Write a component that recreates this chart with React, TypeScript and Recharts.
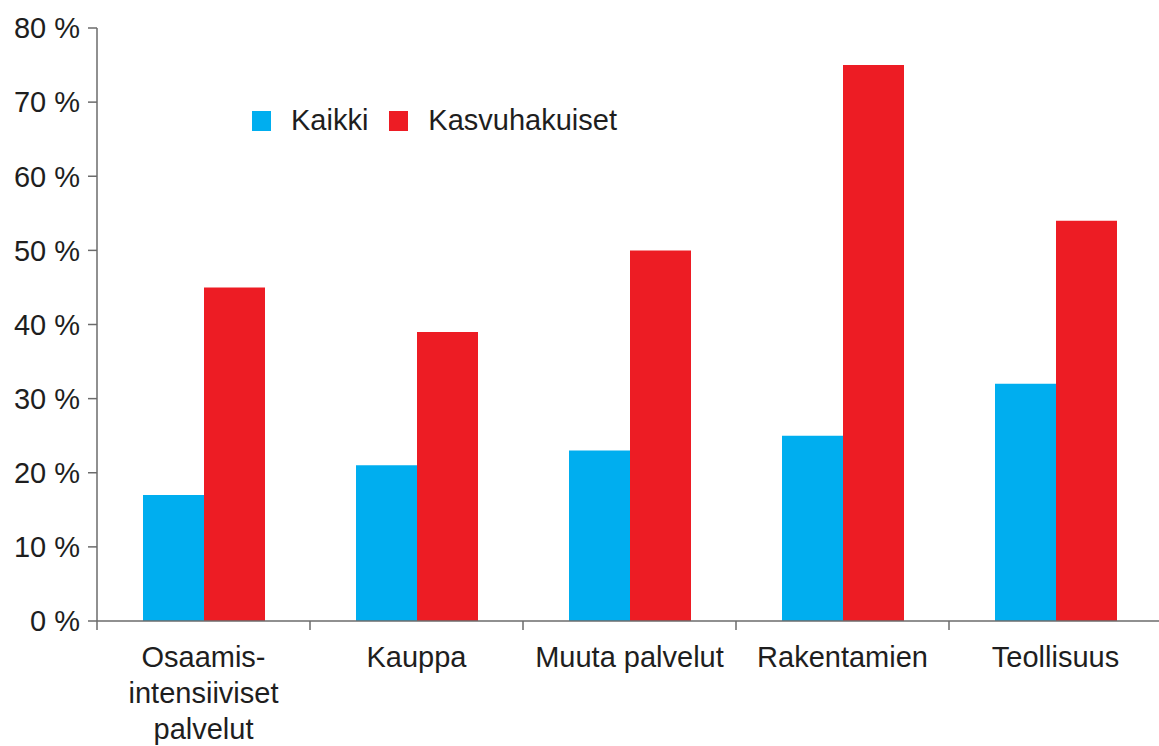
import React from 'react';
import { BarChart, Bar, XAxis, YAxis } from 'recharts';

// Toimialat (rivinvaihto \n jakaa pitkän nimen)
const CATEGORIES = [
  'Osaamis-\nintensiiviset\npalvelut',
  'Kauppa',
  'Muuta palvelut',
  'Rakentamien',
  'Teollisuus',
];
const KAIKKI = [17, 21, 23, 25, 32];
const KASVUHAKUISET = [45, 39, 50, 75, 54];
const Y_TICKS = [0, 10, 20, 30, 40, 50, 60, 70, 80];

const SERIES = [
  { key: 'kaikki', name: 'Kaikki', color: '#00AEEF' },
  { key: 'kasvu', name: 'Kasvuhakuiset', color: '#ED1C24' },
];

const data = CATEGORIES.map((c, i) => ({
  category: c,
  kaikki: KAIKKI[i],
  kasvu: KASVUHAKUISET[i],
}));

const FONT = '"Liberation Sans", Arial, Helvetica, sans-serif';
const AXIS = '#6b6b6b';
const TEXT = '#1e1e1e';

const CategoryTick = (props: any) => {
  const { x, y, payload } = props;
  const half = payload.offset ?? 106.5;
  const lines = String(payload.value).split('\n');
  return (
    <g>
      <line x1={x - half} x2={x - half} y1={y} y2={y + 9} stroke={AXIS} strokeWidth={1.5} />
      <text x={x} y={y} textAnchor="middle" fontSize={29} fill={TEXT} fontFamily={FONT}>
        {lines.map((l, i) => (
          <tspan key={i} x={x} dy={i === 0 ? 46 : 36}>
            {l}
          </tspan>
        ))}
      </text>
    </g>
  );
};

const App: React.FC = () => {
  return (
    <div
      style={{
        position: 'absolute',
        left: 0,
        top: 0,
        width: 1159,
        height: 746,
        overflow: 'hidden',
        background: '#fff',
        fontFamily: FONT,
      }}
    >
      <BarChart
        width={1162}
        height={746}
        data={data}
        margin={{ top: 28, right: 0, left: 0, bottom: 0 }}
        barCategoryGap={46}
        barGap={0}
      >
        <XAxis
          dataKey="category"
          interval={0}
          height={125}
          axisLine={{ stroke: AXIS, strokeWidth: 1.5 }}
          tickLine={false}
          tickSize={0}
          tickMargin={0}
          tick={<CategoryTick />}
        />
        <YAxis
          width={97}
          domain={[0, 80]}
          ticks={Y_TICKS}
          tickFormatter={(v: number) => `${v} %`}
          axisLine={{ stroke: AXIS, strokeWidth: 1.5 }}
          tickLine={{ stroke: AXIS, strokeWidth: 1.5 }}
          tickSize={9}
          tickMargin={8}
          tick={{ fontSize: 29, fill: TEXT, fontFamily: FONT }}
        />
        {SERIES.map((s) => (
          <Bar key={s.key} dataKey={s.key} name={s.name} fill={s.color} isAnimationActive={false} />
        ))}
      </BarChart>

      {/* Selite */}
      <div
        style={{
          position: 'absolute',
          left: 252,
          top: 104,
          display: 'flex',
          alignItems: 'center',
          fontSize: 29,
          color: TEXT,
        }}
      >
        {SERIES.map((s) => (
          <div key={s.key} style={{ display: 'flex', alignItems: 'center', marginRight: 21 }}>
            <span style={{ width: 19, height: 20, background: s.color, display: 'inline-block', marginRight: 20 }} />
            <span>{s.name}</span>
          </div>
        ))}
      </div>
    </div>
  );
};

export default App;
